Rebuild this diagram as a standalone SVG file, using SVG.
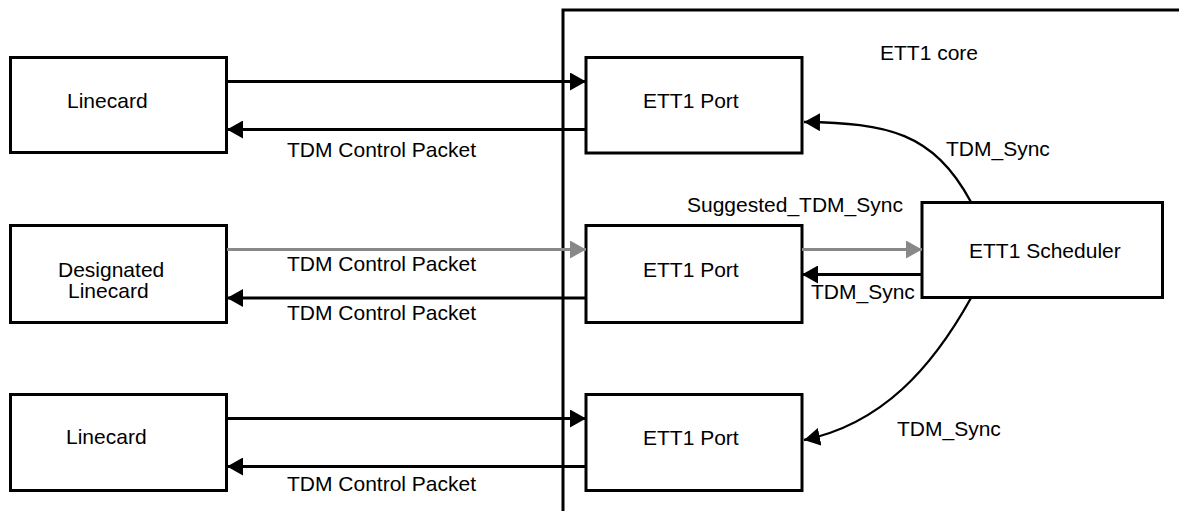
<svg xmlns="http://www.w3.org/2000/svg" width="1179" height="511" viewBox="0 0 1179 511">
<style>
.box{fill:#fff;stroke:#000;stroke-width:3}
.ln{fill:none;stroke:#000;stroke-width:3}
.gl{fill:none;stroke:#888;stroke-width:3}
.cv{fill:none;stroke:#000;stroke-width:2.3}
text{font-family:"Liberation Sans",Arial,sans-serif;font-size:21px;fill:#000}
</style>
<defs>
<marker id="ab" viewBox="0 0 16 18" refX="16" refY="9" markerWidth="16" markerHeight="18" markerUnits="userSpaceOnUse" orient="auto"><path d="M0,0 L16,9 L0,18 Z" fill="#000"/></marker>
<marker id="ag" viewBox="0 0 16 18" refX="16" refY="9" markerWidth="16" markerHeight="18" markerUnits="userSpaceOnUse" orient="auto"><path d="M0,0 L16,9 L0,18 Z" fill="#888"/></marker>
</defs>
<rect width="1179" height="511" fill="#fff"/>
<g id="core">
<path class="ln" d="M563,511 V10 H1179"/>
<text x="880" y="60">ETT1 core</text>
</g>
<g id="linecard1"><rect class="box" x="10.5" y="57.5" width="216" height="95"/><text x="67" y="108">Linecard</text></g>
<g id="linecard2"><rect class="box" x="10.5" y="225.5" width="216" height="97"/><text x="58" y="277">Designated</text><text x="68" y="298">Linecard</text></g>
<g id="linecard3"><rect class="box" x="10.5" y="394.5" width="216" height="96"/><text x="66" y="444">Linecard</text></g>
<g id="port1"><rect class="box" x="586" y="57.5" width="216" height="95.5"/><text x="643" y="108">ETT1 Port</text></g>
<g id="port2"><rect class="box" x="586" y="225.5" width="216" height="97"/><text x="643" y="277">ETT1 Port</text></g>
<g id="port3"><rect class="box" x="586" y="394.5" width="216" height="96"/><text x="643" y="445">ETT1 Port</text></g>
<g id="scheduler"><rect class="box" x="922" y="202.5" width="240.5" height="95"/><text x="969" y="258">ETT1 Scheduler</text></g>
<g id="connectors">
<line class="ln" x1="227" y1="81.5" x2="586" y2="81.5" marker-end="url(#ab)"/>
<line class="ln" x1="586" y1="129.5" x2="227" y2="129.5" marker-end="url(#ab)"/>
<line class="gl" x1="227" y1="249.5" x2="586" y2="249.5" marker-end="url(#ag)"/>
<line class="ln" x1="586" y1="298" x2="227" y2="298" marker-end="url(#ab)"/>
<line class="ln" x1="227" y1="418.5" x2="586" y2="418.5" marker-end="url(#ab)"/>
<line class="ln" x1="586" y1="466.5" x2="227" y2="466.5" marker-end="url(#ab)"/>
<line class="gl" x1="802" y1="249.5" x2="922" y2="249.5" marker-end="url(#ag)"/>
<line class="ln" x1="922" y1="274.5" x2="802" y2="274.5" marker-end="url(#ab)"/>
<path class="cv" d="M971,202 C933,132 887,123 804,122" marker-end="url(#ab)"/>
<path class="cv" d="M971,298 C932,368 882,424 804,440" marker-end="url(#ab)"/>
<text x="287" y="157">TDM Control Packet</text>
<text x="287" y="271">TDM Control Packet</text>
<text x="287" y="320">TDM Control Packet</text>
<text x="287" y="491">TDM Control Packet</text>
<text x="946" y="156">TDM_Sync</text>
<text x="687" y="212">Suggested_TDM_Sync</text>
<text x="811" y="299">TDM_Sync</text>
<text x="897" y="436">TDM_Sync</text>
</g>
</svg>
